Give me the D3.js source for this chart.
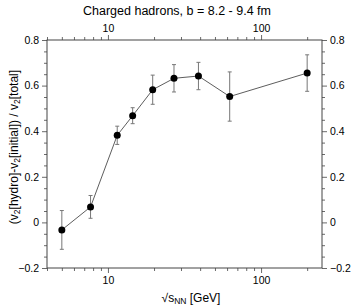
<!DOCTYPE html>
<html>
<head>
<meta charset="utf-8">
<script src="https://cdn.jsdelivr.net/npm/d3@7"></script>
<style>
  body { margin: 0; background: #fff; }
  svg { font-family: "Liberation Sans", Arial, sans-serif; }
</style>
</head>
<body>
<div id="chart"></div>
<script>
// values
const energies = [5, 7.7, 11.5, 14.5, 19.6, 27, 39, 62.4, 200]
const ratio = [-0.033, 0.068, 0.382, 0.468, 0.582, 0.632, 0.642, 0.552, 0.655]
const errs = [0.085, 0.05, 0.04, 0.035, 0.064, 0.06, 0.06, 0.108, 0.08]
const yTicks = [-0.2, 0, 0.2, 0.4, 0.6, 0.8]
const xTicks = [10, 100]

const width = 354, height = 308
const margin = {top: 40, right: 32, bottom: 40, left: 47}

const svg = d3.select("#chart").append("svg")
    .attr("width", width)
    .attr("height", height)

const x = d3.scaleLog()
    .domain([4, 250])
    .range([margin.left, width - margin.right])

const y = d3.scaleLinear()
    .domain([-0.2, 0.8])
    .range([height - margin.bottom, margin.top])

// minor tick positions
const xMinor = []
for (const dec of [1, 10, 100]) {
    for (let k = 1; k <= 9; k++) {
        const v = k * dec
        if (v >= 4 && v <= 250 && !xTicks.includes(v)) xMinor.push(v)
    }
}
const yMinor = d3.range(-0.2, 0.801, 0.05).filter(v => Math.round(v * 100) % 20 !== 0)

const fmtY = d => d === 0 ? "0" : d3.format(".1f")(d)

function styleAxis(g) {
    g.select(".domain").remove()
    g.selectAll(".tick line").attr("stroke", "#444").attr("stroke-width", 0.8)
    g.selectAll(".tick text").attr("fill", "#000").style("font-size", "10.5px")
}

// major axes
svg.append("g")
    .attr("transform", `translate(${margin.left},0)`)
    .call(d3.axisLeft(y).tickValues(yTicks).tickFormat(fmtY).tickSize(5).tickPadding(3))
    .call(styleAxis)
svg.append("g")
    .attr("transform", `translate(${width - margin.right},0)`)
    .call(d3.axisRight(y).tickValues(yTicks).tickFormat(fmtY).tickSize(5).tickPadding(3))
    .call(styleAxis)
svg.append("g")
    .attr("transform", `translate(0,${height - margin.bottom})`)
    .call(d3.axisBottom(x).tickValues(xTicks).tickFormat(d3.format("d")).tickSize(5).tickPadding(4))
    .call(styleAxis)
svg.append("g")
    .attr("transform", `translate(0,${margin.top})`)
    .call(d3.axisTop(x).tickValues(xTicks).tickFormat(d3.format("d")).tickSize(5).tickPadding(3))
    .call(styleAxis)

// minor ticks
svg.append("g")
    .attr("transform", `translate(${margin.left},0)`)
    .call(d3.axisLeft(y).tickValues(yMinor).tickFormat("").tickSize(3))
    .call(styleAxis)
svg.append("g")
    .attr("transform", `translate(${width - margin.right},0)`)
    .call(d3.axisRight(y).tickValues(yMinor).tickFormat("").tickSize(3))
    .call(styleAxis)
svg.append("g")
    .attr("transform", `translate(0,${height - margin.bottom})`)
    .call(d3.axisBottom(x).tickValues(xMinor).tickFormat("").tickSize(3))
    .call(styleAxis)
svg.append("g")
    .attr("transform", `translate(0,${margin.top})`)
    .call(d3.axisTop(x).tickValues(xMinor).tickFormat("").tickSize(3))
    .call(styleAxis)

// frame
svg.append("rect")
    .attr("x", margin.left)
    .attr("y", margin.top)
    .attr("width", width - margin.left - margin.right)
    .attr("height", height - margin.top - margin.bottom)
    .attr("fill", "none")
    .attr("stroke", "#444")
    .attr("stroke-width", 1)

const pts = energies.map((e, i) => ({e, v: ratio[i], err: errs[i]}))

// connecting line
svg.append("path")
    .datum(pts)
    .attr("fill", "none")
    .attr("stroke", "#333")
    .attr("stroke-width", 0.8)
    .attr("d", d3.line().x(d => x(d.e)).y(d => y(d.v)))

// error bars
const eb = svg.append("g")
    .attr("stroke", "#777")
    .attr("stroke-width", 1)
eb.selectAll("line.bar")
    .data(pts)
    .join("line")
    .attr("class", "bar")
    .attr("x1", d => x(d.e)).attr("x2", d => x(d.e))
    .attr("y1", d => y(d.v - d.err)).attr("y2", d => y(d.v + d.err))
eb.selectAll("line.capt")
    .data(pts)
    .join("line")
    .attr("class", "capt")
    .attr("x1", d => x(d.e) - 2).attr("x2", d => x(d.e) + 2)
    .attr("y1", d => y(d.v + d.err)).attr("y2", d => y(d.v + d.err))
eb.selectAll("line.capb")
    .data(pts)
    .join("line")
    .attr("class", "capb")
    .attr("x1", d => x(d.e) - 2).attr("x2", d => x(d.e) + 2)
    .attr("y1", d => y(d.v - d.err)).attr("y2", d => y(d.v - d.err))

// points
svg.append("g")
    .selectAll("circle")
    .data(pts)
    .join("circle")
    .attr("cx", d => x(d.e))
    .attr("cy", d => y(d.v))
    .attr("r", 3.5)
    .attr("fill", "#000")

// title
svg.append("text")
    .attr("x", 177)
    .attr("y", 15)
    .attr("text-anchor", "middle")
    .style("font-size", "12.5px")
    .text("Charged hadrons, b = 8.2 - 9.4 fm")

// x label
const xl = svg.append("text")
    .attr("x", 191)
    .attr("y", 302)
    .attr("text-anchor", "middle")
    .style("font-size", "12px")
xl.append("tspan").text("√s")
xl.append("tspan").attr("dy", 2).style("font-size", "8.5px").text("NN")
xl.append("tspan").attr("dy", -2).text(" [GeV]")

// y label
const yl = svg.append("text")
    .attr("transform", "translate(18,147) rotate(-90)")
    .attr("text-anchor", "middle")
    .style("font-size", "12px")
const parts = [["(v", "2", "[hydro]-v"], ["", "2", "[initial]) / v"], ["", "2", "[total]"]]
for (const [a, sub, b] of parts) {
    if (a) yl.append("tspan").text(a)
    yl.append("tspan").attr("dy", 2).style("font-size", "8.5px").text(sub)
    yl.append("tspan").attr("dy", -2).text(b)
}
</script>
</body>
</html>
